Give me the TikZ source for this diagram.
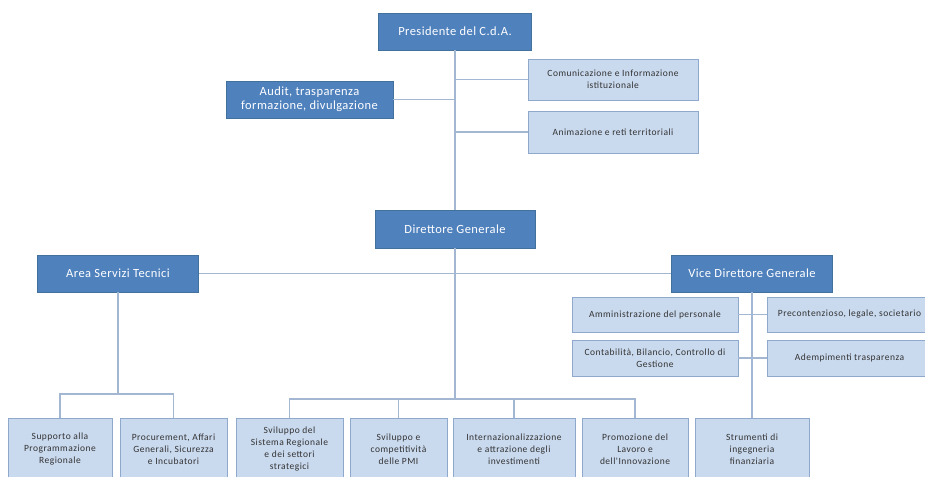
\documentclass[tikz,border=0pt]{standalone}
\usepackage{fontspec}
\setmainfont{Carlito}
\newfontfamily\darkfont[LetterSpace=3.5]{Carlito}
\newfontfamily\lightfont[LetterSpace=5]{Carlito}
\definecolor{darkfill}{HTML}{4F81BD}
\definecolor{darkline}{HTML}{41719C}
\definecolor{lightfill}{HTML}{C9D9EE}
\definecolor{lightline}{HTML}{8FA9CC}
\definecolor{connc}{HTML}{A3B7D2}
\definecolor{txtc}{HTML}{333333}
\begin{document}
\begin{tikzpicture}[x=1pt,y=-1pt,
  darkbox/.style={rectangle, fill=darkfill, draw=darkline, line width=0.8pt, text=white, align=center, inner sep=0pt, font=\darkfont\fontsize{12.5}{14}\selectfont},
  lightbox/.style={rectangle, fill=lightfill, draw=lightline, line width=0.8pt, text=txtc, align=center, inner sep=0pt, font=\lightfont\fontsize{9.5}{12}\selectfont},
  conn/.style={draw=connc, line width=1.4pt}]
\clip (0,0) rectangle (925,476);
\fill[white] (0,0) rectangle (925,476);
\coordinate (ha) at (118,394);
\coordinate (hb) at (455,399);
% nodes
\node[darkbox, minimum width=153pt, minimum height=37pt] (pres) at (455,31.5) {Presidente del C.d.A.};
\node[darkbox, minimum width=167pt, minimum height=37pt] (audit) at (309.5,99.5) {Audit, trasparenza\\formazione, divulgazione};
\node[lightbox, minimum width=170pt, minimum height=41pt] (comm) at (613,79.5) {Comunicazione e Informazione\\istituzionale};
\node[lightbox, minimum width=170pt, minimum height=42pt] (anim) at (613,132) {Animazione e reti territoriali};
\node[darkbox, minimum width=160pt, minimum height=38pt] (dg) at (455,229) {Direttore Generale};
\node[darkbox, minimum width=161pt, minimum height=37pt] (ast) at (118,273.5) {Area Servizi Tecnici};
\node[darkbox, minimum width=161pt, minimum height=37pt] (vdg) at (752,273.5) {Vice Direttore Generale};
\node[lightbox, minimum width=166pt, minimum height=35pt] (amm) at (655,314.5) {Amministrazione del personale};
\node[lightbox, minimum width=165pt, minimum height=35pt] (prec) at (849.5,314.5) {Precontenzioso, legale, societario};
\node[lightbox, minimum width=166pt, minimum height=36pt] (cont) at (655,358) {Contabilità, Bilancio, Controllo di\\Gestione};
\node[lightbox, minimum width=165pt, minimum height=36pt] (adem) at (849.5,358) {Adempimenti trasparenza};
\node[lightbox, minimum width=104pt, minimum height=62pt] (supp) at (60,449) {Supporto alla\\Programmazione\\Regionale};
\node[lightbox, minimum width=107pt, minimum height=62pt] (proc) at (173.5,449) {Procurement, Affari\\Generali, Sicurezza\\e Incubatori};
\node[lightbox, minimum width=107pt, minimum height=62pt] (svs) at (289.5,449) {Sviluppo del\\Sistema Regionale\\e dei settori\\strategici};
\node[lightbox, minimum width=97pt, minimum height=62pt] (svc) at (398.5,449) {Sviluppo e\\competitività\\delle PMI};
\node[lightbox, minimum width=122pt, minimum height=62pt] (int) at (514,449) {Internazionalizzazione\\e attrazione degli\\investimenti};
\node[lightbox, minimum width=106pt, minimum height=62pt] (prom) at (635,449) {Promozione del\\Lavoro e\\dell'Innovazione};
\node[lightbox, minimum width=114pt, minimum height=62pt] (strum) at (752,449) {Strumenti di\\ingegneria\\finanziaria};
% connectors
\path[conn] (pres.south) -- (dg.north);
\path[conn] (audit.east) -- (audit.east -| pres.south);
\path[conn] (comm.west) -- (comm.west -| pres.south);
\path[conn] (anim.west) -- (anim.west -| pres.south);
\path[conn] (ast.east) -- (vdg.west);
\path[conn] (ast.south) -- (ha);
\path[conn] (supp.north) |- (ha) -| (proc.north);
\path[conn] (dg.south) -- (hb);
\path[conn] (svs.north) |- (hb) -| (prom.north);
\path[conn] (svc.north) -- (svc.north |- hb);
\path[conn] (int.north) -- (int.north |- hb);
\path[conn] (vdg.south) -- (strum.north);
\path[conn] (amm.east) -- (prec.west);
\path[conn] (cont.east) -- (adem.west);
\end{tikzpicture}
\end{document}
